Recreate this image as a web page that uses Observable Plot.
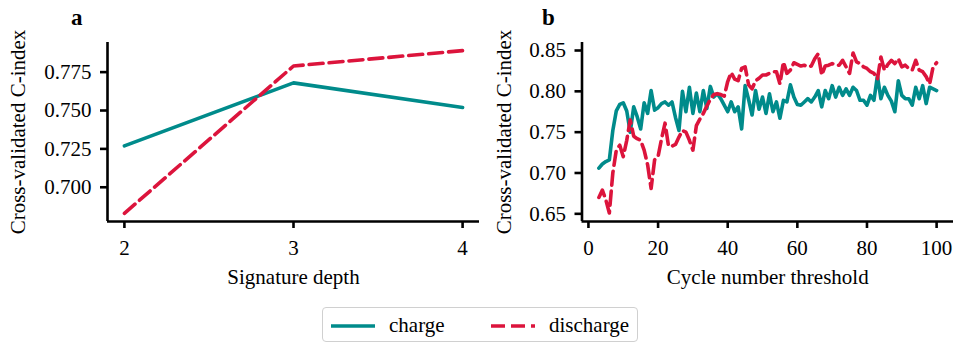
<!DOCTYPE html>
<html><head><meta charset="utf-8">
<script src="https://cdn.jsdelivr.net/npm/d3@7"></script>
<script src="https://cdn.jsdelivr.net/npm/@observablehq/plot@0.6"></script>
<style>
body{margin:0;background:#fff;font-family:"Liberation Serif",serif;}
#fig{position:relative;width:954px;height:346px;overflow:hidden;}
.panel{position:absolute;top:0;}
.letter{position:absolute;font-weight:bold;font-size:23px;line-height:1;}
#legend{position:absolute;left:322px;top:307px;width:316px;height:35px;border:1.5px solid #d0d0d0;border-radius:4px;box-sizing:border-box;font-size:21px;}
#legend .item{position:absolute;top:0;height:35px;display:flex;align-items:center;}
#legend svg{margin-right:14px;}
</style></head>
<body>
<div id="fig">
  <div id="panelA" class="panel" style="left:0"></div>
  <div id="panelB" class="panel" style="left:480px"></div>
  <div class="letter" style="left:71px;top:6px">a</div>
  <div class="letter" style="left:542px;top:6px">b</div>
  <div id="legend"></div>
</div>
<script>
// ---- data ----
const seriesNames = ["charge", "discharge"];
const seriesColors = ["#008b8b", "#dc143c"];

const depths = [2, 3, 4];
const depthCharge = [0.727, 0.768, 0.752];
const depthDischarge = [0.683, 0.779, 0.789];
const depthTicks = [2, 3, 4];
const depthYTicks = [0.700, 0.725, 0.750, 0.775];

const cycles = [3,4,5,6,7,8,9,10,11,12,13,14,15,16,17,18,19,20,21,22,23,24,25,26,27,28,29,30,
  31,32,33,34,35,36,37,38,39,40,41,42,43,44,45,46,47,48,49,50,51,52,53,54,55,56,57,58,59,60,
  61,62,63,64,65,66,67,68,69,70,71,72,73,74,75,76,77,78,79,80,81,82,83,84,85,86,87,88,89,90,
  91,92,93,94,95,96,97,98,99,100];
const cycleCharge = [0.706,0.711,0.714,0.716,0.752,0.776,0.784,0.786,0.776,0.750,
  0.781,0.769,0.754,0.786,0.773,0.801,0.777,0.780,0.785,0.787,
  0.783,0.787,0.768,0.752,0.800,0.775,0.805,0.773,0.798,0.775,
  0.801,0.779,0.806,0.793,0.797,0.791,0.783,0.775,0.787,0.775,
  0.781,0.754,0.807,0.790,0.771,0.801,0.778,0.793,0.773,0.797,
  0.775,0.787,0.767,0.789,0.787,0.808,0.793,0.784,0.783,0.787,
  0.791,0.787,0.793,0.801,0.781,0.801,0.791,0.807,0.793,0.805,
  0.795,0.803,0.795,0.805,0.801,0.789,0.789,0.783,0.795,0.789,
  0.819,0.791,0.805,0.795,0.788,0.775,0.813,0.795,0.791,0.791,
  0.783,0.805,0.791,0.807,0.785,0.805,0.803,0.801];
const cycleDischarge = [0.670,0.679,0.667,0.651,0.700,0.728,0.734,0.720,0.740,0.765,
  0.745,0.742,0.740,0.728,0.710,0.681,0.716,0.720,0.742,0.761,
  0.733,0.733,0.735,0.744,0.752,0.750,0.740,0.728,0.758,0.766,
  0.773,0.782,0.790,0.796,0.797,0.796,0.794,0.812,0.823,0.815,
  0.813,0.828,0.830,0.808,0.803,0.813,0.816,0.820,0.820,0.822,
  0.824,0.824,0.809,0.836,0.822,0.826,0.835,0.833,0.831,0.832,
  0.830,0.831,0.840,0.846,0.820,0.831,0.832,0.834,0.832,0.832,
  0.838,0.830,0.822,0.847,0.836,0.834,0.830,0.828,0.824,0.822,
  0.815,0.842,0.826,0.833,0.838,0.834,0.840,0.830,0.832,0.828,
  0.826,0.838,0.826,0.824,0.818,0.809,0.830,0.835];
const cycleTicks = [0, 20, 40, 60, 80, 100];
const cycleYTicks = [0.65, 0.70, 0.75, 0.80, 0.85];

// ---- build ----
const toRows = (xs, ys) => xs.map((x, i) => ({x, y: ys[i]}));
const font = {fontFamily: "'Liberation Serif', serif", fontSize: "21px", overflow: "visible", background: "transparent", color: "black"};
const lw = 3.6, spine = 2.6, dash = "14,6";

function panel({width, ml, xDomain, yDomain, xTicks, yTicks, yFmt, xLabel, a, b, xs, yLabelOffset}) {
  return Plot.plot({
    width, height: 300, marginLeft: ml, marginRight: 1, marginTop: 42, marginBottom: 79,
    style: font,
    x: {domain: xDomain}, y: {domain: yDomain},
    marks: [
      Plot.axisX({ticks: xTicks, tickFormat: d3.format("d"), tickSize: 7, tickPadding: 12, strokeWidth: spine, label: xLabel, labelAnchor: "center", labelOffset: 62, labelArrow: false}),
      Plot.axisY({ticks: yTicks, tickFormat: d3.format(yFmt), tickSize: 7, tickPadding: 9, strokeWidth: spine, label: "Cross-validated C-index", labelAnchor: "center", labelOffset: yLabelOffset, labelArrow: false}),
      Plot.ruleX([xDomain[0]], {strokeWidth: spine}),
      Plot.ruleY([yDomain[0]], {strokeWidth: spine}),
      Plot.line(toRows(xs, a), {x: "x", y: "y", stroke: seriesColors[0], strokeWidth: lw}),
      Plot.line(toRows(xs, b), {x: "x", y: "y", stroke: seriesColors[1], strokeWidth: lw, strokeDasharray: dash})
    ]
  });
}

document.getElementById("panelA").append(panel({
  width: 480, ml: 107, xDomain: [1.9, 4.1], yDomain: [0.6777, 0.7943],
  xTicks: depthTicks, yTicks: depthYTicks, yFmt: ".3f", xLabel: "Signature depth",
  a: depthCharge, b: depthDischarge, xs: depths, yLabelOffset: 97
}));
document.getElementById("panelB").append(panel({
  width: 474, ml: 101.5, xDomain: [-1.85, 104.85], yDomain: [0.6406, 0.8598],
  xTicks: cycleTicks, yTicks: cycleYTicks, yFmt: ".2f", xLabel: "Cycle number threshold",
  a: cycleCharge, b: cycleDischarge, xs: cycles, yLabelOffset: 86
}));

// legend
const leg = document.getElementById("legend");
const lefts = [8, 168];
seriesNames.forEach((name, i) => {
  const item = document.createElement("div");
  item.className = "item";
  item.style.left = lefts[i] + "px";
  item.innerHTML = `<svg width="44" height="10"><line x1="0" y1="5" x2="44" y2="5" stroke="${seriesColors[i]}" stroke-width="${lw}" ${i ? `stroke-dasharray="${dash}"` : ""}/></svg><span>${name}</span>`;
  leg.append(item);
});
</script>
</body></html>
